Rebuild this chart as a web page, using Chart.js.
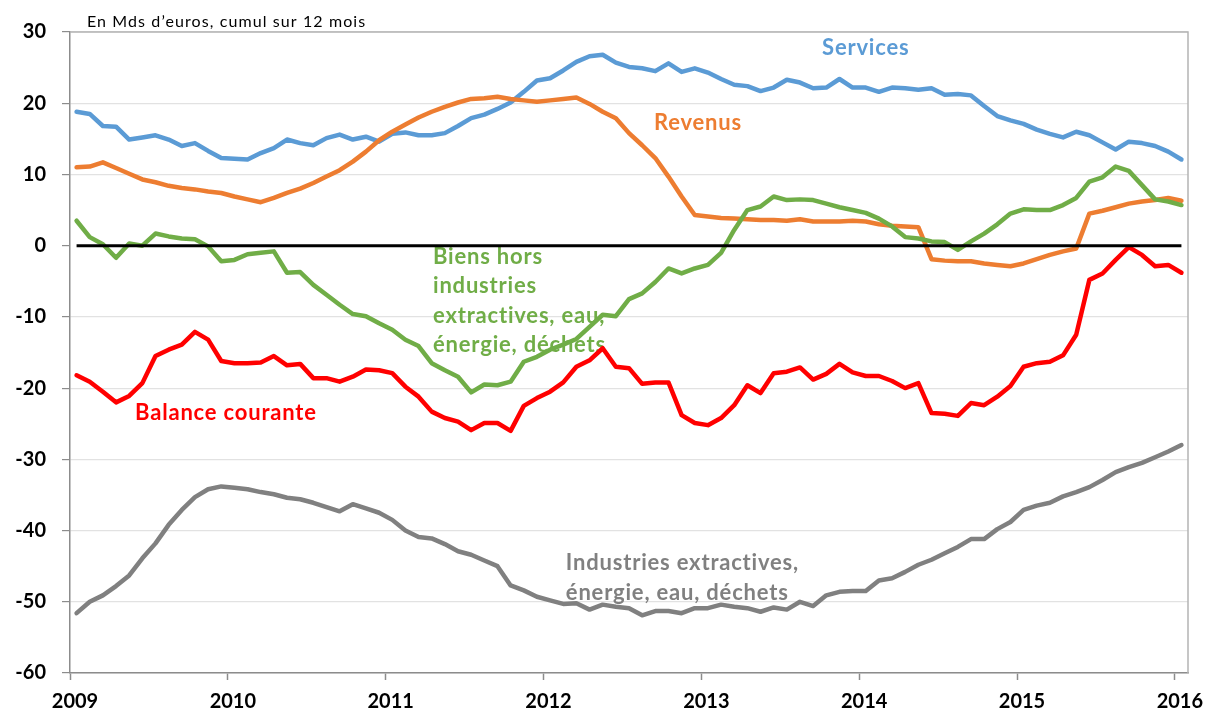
<!DOCTYPE html>
<html>
<head>
<meta charset="utf-8">
<script src="https://cdn.jsdelivr.net/npm/chart.js@4/dist/chart.umd.min.js"></script>
<style>
  body { margin: 0; background: #fff; }
  #wrap { width: 1209px; height: 716px; }
</style>
</head>
<body>
<div id="wrap"><canvas id="balanceChart" width="1209" height="716"></canvas></div>
<script>
// Balance courante de la France, en Mds d'euros, cumul sur 12 mois (janv. 2009 - janv. 2016)
const years = ["2009", "2010", "2011", "2012", "2013", "2014", "2015", "2016"];

const services = [18.8, 18.5, 16.8, 16.7, 14.9, 15.2, 15.5, 14.9, 14.0, 14.4, 13.3, 12.3,
  12.2, 12.1, 13.0, 13.7, 14.9, 14.4, 14.1, 15.1, 15.6, 14.9, 15.3, 14.6,
  15.7, 15.9, 15.5, 15.5, 15.8, 16.8, 17.9, 18.4, 19.2, 20.1, 21.6, 23.2,
  23.5, 24.6, 25.8, 26.6, 26.8, 25.7, 25.1, 24.9, 24.5, 25.6, 24.4, 24.9,
  24.3, 23.4, 22.6, 22.4, 21.7, 22.2, 23.3, 22.9, 22.1, 22.2, 23.4, 22.2,
  22.2, 21.6, 22.2, 22.1, 21.9, 22.1, 21.2, 21.3, 21.1, 19.6, 18.2, 17.6,
  17.1, 16.3, 15.7, 15.2, 16.0, 15.5, 14.5, 13.5, 14.6, 14.4, 14.0, 13.2,
  12.1];

const revenus = [11.0, 11.1, 11.7, 10.9, 10.1, 9.3, 8.9, 8.4, 8.1, 7.9, 7.6, 7.4,
  6.9, 6.5, 6.1, 6.7, 7.4, 8.0, 8.8, 9.7, 10.6, 11.8, 13.2, 14.8,
  16.0, 17.0, 18.0, 18.8, 19.5, 20.1, 20.6, 20.7, 20.9, 20.6, 20.4, 20.2,
  20.4, 20.6, 20.8, 19.9, 18.8, 17.9, 15.8, 14.1, 12.3, 9.7, 6.9, 4.3,
  4.1, 3.9, 3.8, 3.7, 3.6, 3.6, 3.5, 3.7, 3.4, 3.4, 3.4, 3.5,
  3.4, 3.0, 2.8, 2.7, 2.6, -1.9, -2.1, -2.2, -2.2, -2.5, -2.7, -2.9,
  -2.5, -1.9, -1.3, -0.8, -0.4, 4.5, 4.9, 5.4, 5.9, 6.2, 6.4, 6.7,
  6.3];

const biens = [3.5, 1.2, 0.2, -1.7, 0.3, 0.0, 1.7, 1.3, 1.0, 0.9, -0.1, -2.2,
  -2.0, -1.2, -1.0, -0.8, -3.8, -3.7, -5.5, -6.9, -8.3, -9.6, -9.9, -10.9,
  -11.8, -13.2, -14.1, -16.5, -17.5, -18.4, -20.6, -19.5, -19.6, -19.1, -16.3, -15.6,
  -14.6, -13.9, -13.1, -11.4, -9.7, -9.9, -7.5, -6.7, -5.1, -3.2, -3.9, -3.2,
  -2.7, -1.0, 2.2, 5.0, 5.5, 6.9, 6.4, 6.5, 6.4, 5.9, 5.4, 5.0,
  4.6, 3.8, 2.7, 1.2, 1.0, 0.6, 0.5, -0.6, 0.6, 1.7, 3.0, 4.5,
  5.1, 5.0, 5.0, 5.7, 6.7, 9.0, 9.6, 11.1, 10.5, 8.5, 6.5, 6.2,
  5.7];

const balance = [-18.2, -19.1, -20.5, -22.0, -21.1, -19.3, -15.5, -14.6, -13.9, -12.1, -13.2, -16.2,
  -16.5, -16.5, -16.4, -15.5, -16.8, -16.6, -18.6, -18.6, -19.1, -18.4, -17.4, -17.5,
  -17.9, -19.8, -21.2, -23.3, -24.2, -24.7, -25.9, -24.9, -24.9, -26.0, -22.5, -21.4,
  -20.5, -19.2, -17.0, -16.1, -14.4, -17.0, -17.2, -19.4, -19.2, -19.2, -23.8, -24.9,
  -25.2, -24.2, -22.4, -19.6, -20.7, -17.9, -17.7, -17.1, -18.8, -18.0, -16.6, -17.8,
  -18.3, -18.3, -19.0, -20.0, -19.3, -23.5, -23.6, -23.9, -22.1, -22.4, -21.2, -19.7,
  -17.0, -16.5, -16.3, -15.4, -12.5, -4.8, -3.9, -2.0, -0.2, -1.3, -2.9, -2.7,
  -3.8];

const industries = [-51.6, -50.0, -49.1, -47.8, -46.3, -43.9, -41.8, -39.2, -37.1, -35.3, -34.2, -33.8,
  -34.0, -34.2, -34.6, -34.9, -35.4, -35.6, -36.1, -36.7, -37.3, -36.3, -36.9, -37.5,
  -38.5, -40.0, -40.9, -41.1, -41.9, -42.9, -43.4, -44.2, -45.0, -47.7, -48.4, -49.3,
  -49.8, -50.3, -50.2, -51.1, -50.4, -50.7, -50.9, -51.9, -51.3, -51.3, -51.6, -50.9,
  -50.9, -50.4, -50.7, -50.9, -51.4, -50.8, -51.1, -50.0, -50.6, -49.1, -48.6, -48.5,
  -48.5, -47.0, -46.7, -45.8, -44.8, -44.1, -43.2, -42.3, -41.2, -41.2, -39.8, -38.8,
  -37.1, -36.5, -36.1, -35.2, -34.6, -33.9, -32.9, -31.8, -31.1, -30.5, -29.7, -28.9,
  -28.0];

const baseline = 0;

// mois placés au milieu de leur intervalle (comme un axe de dates Excel)
function toPoints(values) {
  return values.map((v, i) => ({ x: i + 0.5, y: v }));
}

const nbMois = services.length;
const FONT = "Lato, 'Open Sans', sans-serif";

// textes posés sur le graphique (coordonnées en unités des axes)
const etiquettes = [
  { lignes: ["Services"], x: 60.5, y: 27.8, couleur: "#5B9BD5", align: "center" },
  { lignes: ["Revenus"], x: 44.4, y: 17.2, couleur: "#ED7D31", align: "left" },
  { lignes: ["Biens hors", "industries", "extractives, eau,", "énergie, déchets"], x: 27.6, y: -1.6, couleur: "#70AD47", align: "left" },
  { lignes: ["Balance courante"], x: 4.95, y: -23.5, couleur: "#FF0000", align: "left" },
  { lignes: ["Industries extractives,", "énergie, eau, déchets"], x: 37.7, y: -44.6, couleur: "#808080", align: "left" }
];

const decorPlugin = {
  id: "decor",
  beforeDatasetsDraw(chart) {
    const { ctx, chartArea, scales } = chart;
    ctx.save();
    // cadre de la zone de tracé
    ctx.strokeStyle = "#b4b4b4";
    ctx.lineWidth = 1.5;
    ctx.beginPath();
    ctx.moveTo(chartArea.left, chartArea.top);
    ctx.lineTo(chartArea.right, chartArea.top);
    ctx.lineTo(chartArea.right, chartArea.bottom);
    ctx.stroke();

    // titre
    ctx.fillStyle = "#000";
    ctx.font = "16px " + FONT;
    ctx.letterSpacing = "1.1px";
    ctx.textBaseline = "middle";
    ctx.textAlign = "left";
    ctx.fillText("En Mds d\u2019euros, cumul sur 12 mois", chartArea.left + 17, chartArea.top - 10);

    // étiquettes des séries
    ctx.font = "bold 22px " + FONT;
    ctx.letterSpacing = "0.8px";
    etiquettes.forEach(e => {
      const px = scales.x.getPixelForValue(e.x);
      const py = scales.y.getPixelForValue(e.y);
      ctx.fillStyle = e.couleur;
      ctx.textAlign = e.align;
      e.lignes.forEach((l, k) => ctx.fillText(l, px, py + k * 29.3));
    });
    ctx.restore();
  }
};

function serie(label, values, color, width) {
  return {
    label: label,
    data: toPoints(values),
    borderColor: color,
    backgroundColor: color,
    borderWidth: width,
    pointRadius: 0,
    tension: 0,
    borderJoinStyle: "round",
    borderCapStyle: "round"
  };
}

const ctx = document.getElementById("balanceChart").getContext("2d");

new Chart(ctx, {
  type: "line",
  data: {
    datasets: [
      {
        label: "zéro",
        data: [{ x: 0.5, y: baseline }, { x: nbMois - 0.5, y: baseline }],
        borderColor: "#000",
        borderWidth: 3,
        pointRadius: 0
      },
      serie("Industries extractives, énergie, eau, déchets", industries, "#808080", 4.5),
      serie("Biens hors industries extractives, eau, énergie, déchets", biens, "#70AD47", 4.5),
      serie("Revenus", revenus, "#ED7D31", 4.5),
      serie("Services", services, "#5B9BD5", 4.5),
      serie("Balance courante", balance, "#FF0000", 4.5)
    ]
  },
  options: {
    responsive: false,
    animation: false,
    layout: { padding: { top: 32, right: 21, left: 0, bottom: 0 } },
    plugins: {
      legend: { display: false },
      tooltip: { enabled: false }
    },
    scales: {
      x: {
        type: "linear",
        min: 0,
        max: nbMois,
        afterBuildTicks: (scale) => {
          scale.ticks = years.map((y, k) => ({ value: k * 12 }));
        },
        afterFit: (scale) => { scale.height = 43; },
        grid: {
          drawOnChartArea: false,
          drawTicks: true,
          tickLength: 7,
          tickColor: "#8c8c8c",
          tickWidth: 1.5
        },
        border: { color: "#8c8c8c", width: 1.5 },
        ticks: {
          autoSkip: false,
          maxRotation: 0,
          padding: 10,
          labelOffset: 5,
          color: "#000",
          font: { family: FONT, size: 20, weight: "bold" },
          callback: (v) => years[Math.round(v / 12)]
        }
      },
      y: {
        min: -60,
        max: 30,
        afterFit: (scale) => { scale.width = 70; },
        grid: {
          color: (c) => c.tick && c.tick.value === 0 ? "rgba(0,0,0,0)" : "#e2e2e2",
          lineWidth: 1.2,
          drawTicks: true,
          tickLength: 8,
          tickColor: "#8c8c8c",
          tickWidth: 1.2
        },
        border: { color: "#8c8c8c", width: 1.5 },
        ticks: {
          stepSize: 10,
          padding: 16,
          color: "#000",
          font: { family: FONT, size: 20, weight: "bold" }
        }
      }
    }
  },
  plugins: [decorPlugin]
});
</script>
</body>
</html>
